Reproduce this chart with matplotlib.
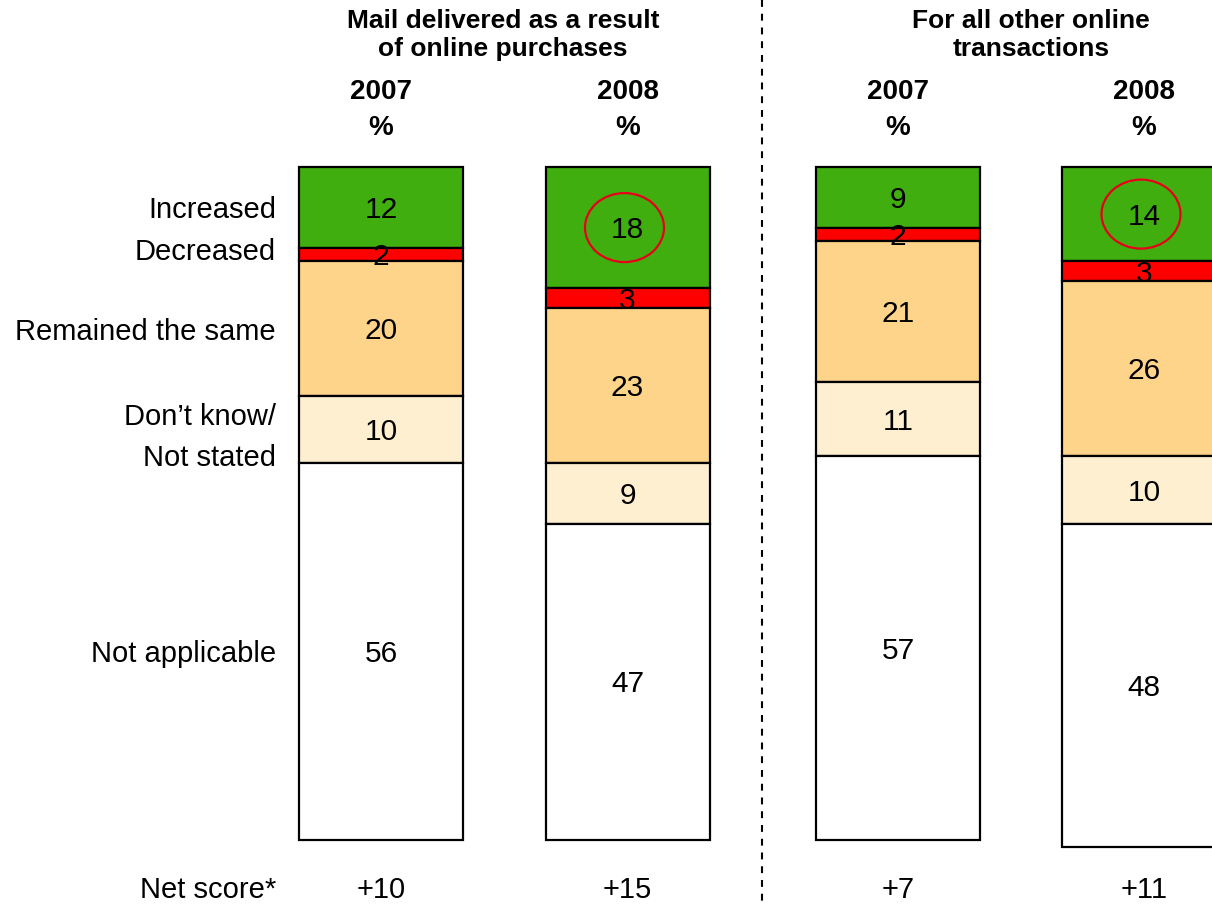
import matplotlib
matplotlib.use("Agg")
import matplotlib.pyplot as plt
from matplotlib.patches import Ellipse

plt.rcParams['font.family'] = ['Liberation Sans', 'DejaVu Sans']

# Survey responses, % of respondents
categories = ["Increased", "Decreased", "Remained the same",
              "Don\u2019t know/\nNot stated", "Not applicable"]
groups = ["Mail delivered as a result\nof online purchases",
          "For all other online\ntransactions"]
years = ["2007", "2008", "2007", "2008"]
increased = [12, 18, 9, 14]
decreased = [2, 3, 2, 3]
same = [20, 23, 21, 26]
dont_know = [10, 9, 11, 10]
not_applicable = [56, 47, 57, 48]
net_score = ["+10", "+15", "+7", "+11"]
highlighted = [False, True, False, True]

series = [increased, decreased, same, dont_know, not_applicable]
colors = ["#40ae0f", "#ff0000", "#fdd48a", "#fdefcf", "#ffffff"]

W, H = 1212, 906
fig = plt.figure(figsize=(W / 100, H / 100), dpi=100)
ax = fig.add_axes([0, 0, 1, 1])

# y axis in percent, measured downward from bar top
top_px, scale = 167, 6.73
ax.set_xlim(0, W)
ax.set_ylim((H - top_px) / scale, -top_px / scale)
ax.axis("off")


def py(p):
    """pixel row -> data y"""
    return (p - top_px) / scale


centers = [381, 627.5, 898, 1144]
width = 164
nudge = 2.5 / scale  # visual centring of digits

for i, xc in enumerate(centers):
    bottom = 0
    for vals, col in zip(series, colors):
        v = vals[i]
        ax.bar(xc, v, width=width, bottom=bottom, color=col,
               edgecolor="black", linewidth=1.6, align="center", zorder=2)
        ax.text(xc, bottom + v / 2 + nudge, str(v), ha="center",
                va="center", fontsize=21.5, color="black", zorder=4)
        bottom += v
    if highlighted[i]:
        ax.add_patch(Ellipse((xc - 3, increased[i] / 2), width=79,
                             height=69 / scale, fill=False,
                             edgecolor="#e8001a", linewidth=1.6, zorder=5))
    ax.text(xc, py(888) + nudge, net_score[i], ha="center", va="center",
            fontsize=21)
    ax.text(xc, py(92), years[i], ha="center", va="center",
            fontsize=20, fontweight="bold")
    ax.text(xc, py(128), "%", ha="center", va="center",
            fontsize=20, fontweight="bold")

# group headings
ax.text(503, py(35), groups[0], ha="center", va="center", fontsize=19,
        fontweight="bold", linespacing=1.18)
ax.text(1031, py(35), groups[1], ha="center", va="center", fontsize=19,
        fontweight="bold", linespacing=1.18)

# row labels
label_rows = [208, 250, 330, 435, 651]
for lab, r in zip(categories, label_rows):
    ax.text(276, py(r) + nudge, lab, ha="right", va="center", fontsize=21,
            linespacing=1.55)
ax.text(276, py(888) + nudge, "Net score*", ha="right", va="center",
        fontsize=21)

# divider between the two groups
ax.plot([762, 762], [py(0), py(906)], color="black", linewidth=1.5,
        linestyle=(0, (3.3, 3.3)), zorder=1)

fig.savefig("out.png", dpi=100)
